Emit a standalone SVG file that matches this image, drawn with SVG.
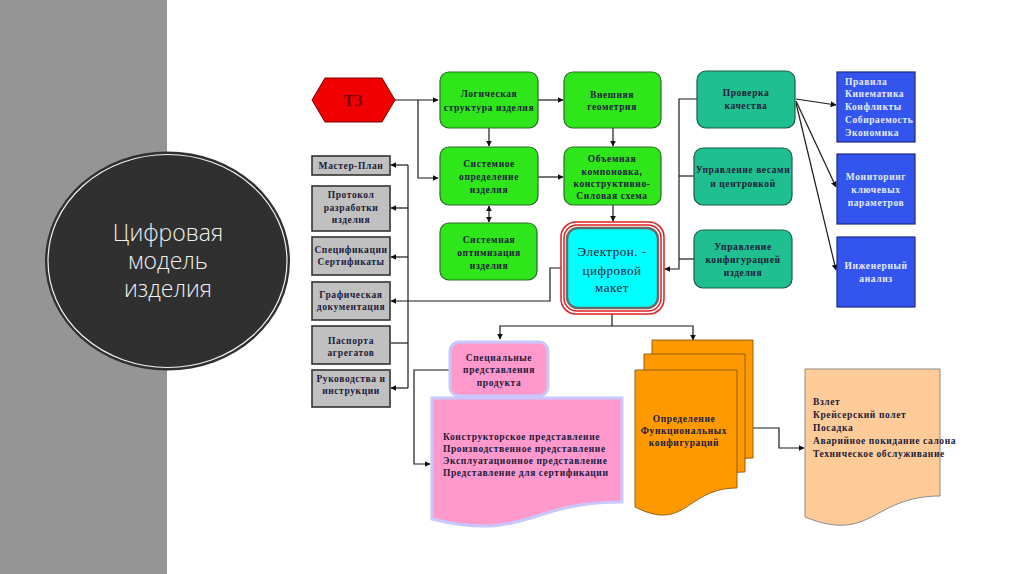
<svg xmlns="http://www.w3.org/2000/svg" width="1024" height="574" viewBox="0 0 1024 574">
<defs>
<marker id="ah" viewBox="0 0 10 10" refX="9" refY="5" markerWidth="6" markerHeight="6" orient="auto-start-reverse" markerUnits="userSpaceOnUse">
<path d="M0,0 L10,5 L0,10 Z" fill="#111"/>
</marker>
<style>
.t{font-family:"Liberation Serif","DejaVu Serif",serif;font-weight:bold;font-size:9.5px;letter-spacing:0.6px;fill:#1b1b3a;text-anchor:middle}
.tl{font-family:"Liberation Serif","DejaVu Serif",serif;font-weight:bold;font-size:9.5px;letter-spacing:0.6px;fill:#1b1b3a}
.tw{font-family:"Liberation Serif","DejaVu Serif",serif;font-weight:bold;font-size:9.5px;letter-spacing:0.6px;fill:#e6ecff}
.te{font-family:"Liberation Serif","DejaVu Serif",serif;font-size:13px;letter-spacing:0.5px;fill:#1b1b3a;text-anchor:middle}
.green{fill:#2ee619;stroke:#2b6b2b;stroke-width:1.2}
.teal{fill:#1fbf8f;stroke:#1d5a48;stroke-width:1.2}
.blue{fill:#3355ee;stroke:#1a2a80;stroke-width:1.2}
.gray{fill:#c0c0c0;stroke:#333;stroke-width:1.6}
.ln{fill:none;stroke:#1a1a1a;stroke-width:1.2}
.title{font-family:"Open Sans","Noto Sans",sans-serif;font-weight:300;font-size:23px;fill:#f2f2f2;text-anchor:middle}
</style>
</defs>
<rect x="0" y="0" width="1024" height="574" fill="#fff"/>
<rect x="0" y="0" width="167" height="574" fill="#959595"/>
<g id="title">
<ellipse cx="167.5" cy="261" rx="122.5" ry="109.5" fill="#303030"/>
<ellipse cx="167.5" cy="261" rx="119.5" ry="106.5" fill="none" stroke="#f4f4f4" stroke-width="1.2"/>
<text class="title" x="168" y="241">Цифровая</text>
<text class="title" x="168" y="269">модель</text>
<text class="title" x="168" y="297">изделия</text>
</g>
<g id="connectors">
<path class="ln" d="M395,100 H438" marker-end="url(#ah)"/>
<path class="ln" d="M418,100 V178 H438" marker-end="url(#ah)"/>
<path class="ln" d="M489,128 V146" marker-end="url(#ah)"/>
<path class="ln" d="M489,206 V222" marker-start="url(#ah)" marker-end="url(#ah)"/>
<path class="ln" d="M538,100 H563" marker-end="url(#ah)"/>
<path class="ln" d="M538,177 H563" marker-end="url(#ah)"/>
<path class="ln" d="M613,128 V146" marker-end="url(#ah)"/>
<path class="ln" d="M613,205 V221" marker-end="url(#ah)"/>
<path class="ln" d="M697,99 H679 V269 H665" marker-end="url(#ah)"/>
<path class="ln" d="M694,176 H679"/>
<path class="ln" d="M694,259 H679"/>
<path class="ln" d="M796,99 L836,105" marker-end="url(#ah)"/>
<path class="ln" d="M796,101 L836,187" marker-end="url(#ah)"/>
<path class="ln" d="M796,103 L836,270" marker-end="url(#ah)"/>
<path class="ln" d="M561,268 H550 V301 H391" marker-end="url(#ah)"/>
<path class="ln" d="M408,165 V388"/>
<path class="ln" d="M408,165 H391" marker-end="url(#ah)"/>
<path class="ln" d="M408,208 H391" marker-end="url(#ah)"/>
<path class="ln" d="M408,257 H391" marker-end="url(#ah)"/>
<path class="ln" d="M408,343 H391"/>
<path class="ln" d="M408,388 H391" marker-end="url(#ah)"/>
<path class="ln" d="M612,314 V326 H500 V339" marker-end="url(#ah)"/>
<path class="ln" d="M612,326 H693 V340" marker-end="url(#ah)"/>
<path class="ln" d="M450,370 H414 V464 H430" marker-end="url(#ah)"/>
<path class="ln" d="M753,428 H779 V448 H804" marker-end="url(#ah)"/>
</g>
<g id="tz">
<polygon points="312,100 325,78 382,78 395,100 382,122 325,122" fill="#f00000" stroke="#7a0000" stroke-width="1"/>
<text x="353" y="106" font-family="Liberation Serif,serif" font-weight="bold" font-size="16" fill="#7a0000" text-anchor="middle">ТЗ</text>
</g>
<g id="logic">
<rect class="green" x="440" y="72" width="98" height="56" rx="9"/>
<text class="t" x="489" y="97">Логическая</text>
<text class="t" x="489" y="111">структура изделия</text>
</g>
<g id="sysdef">
<rect class="green" x="440" y="147" width="98" height="58" rx="9"/>
<text class="t" x="489" y="167">Системное</text>
<text class="t" x="489" y="180">определение</text>
<text class="t" x="489" y="193">изделия</text>
</g>
<g id="sysopt">
<rect class="green" x="440" y="223" width="97" height="57" rx="9"/>
<text class="t" x="489" y="243">Системная</text>
<text class="t" x="489" y="256">оптимизация</text>
<text class="t" x="489" y="269">изделия</text>
</g>
<g id="geom">
<rect class="green" x="564" y="72" width="97" height="56" rx="9"/>
<text class="t" x="612" y="98">Внешняя</text>
<text class="t" x="612" y="110">геометрия</text>
</g>
<g id="layout">
<rect class="green" x="564" y="147" width="97" height="58" rx="9"/>
<text class="t" x="612" y="162">Объемная</text>
<text class="t" x="612" y="175">компоновка,</text>
<text class="t" x="612" y="187">конструктивно-</text>
<text class="t" x="612" y="199">Силовая схема</text>
</g>
<g id="emodel">
<rect x="561" y="222" width="103" height="92" rx="15" fill="#fff" stroke="#e02020" stroke-width="1.5"/>
<rect x="564" y="225" width="97" height="86" rx="13" fill="none" stroke="#e02020" stroke-width="1.5"/>
<rect x="567" y="228" width="91" height="80" rx="11" fill="#00ffff" stroke="#6a6a6a" stroke-width="2.5"/>
<text class="te" x="612" y="256">Электрон. -</text>
<text class="te" x="612" y="275">цифровой</text>
<text class="te" x="612" y="292">макет</text>
</g>
<g id="quality">
<rect class="teal" x="697" y="71" width="98" height="57" rx="9"/>
<text class="t" x="746" y="96">Проверка</text>
<text class="t" x="746" y="109">качества</text>
</g>
<g id="weights">
<rect class="teal" x="694" y="148" width="98" height="57" rx="9"/>
<text class="t" x="743" y="173">Управление весами</text>
<text class="t" x="743" y="187">и центровкой</text>
</g>
<g id="config">
<rect class="teal" x="694" y="230" width="98" height="58" rx="9"/>
<text class="t" x="743" y="250">Управление</text>
<text class="t" x="743" y="263">конфигурацией</text>
<text class="t" x="743" y="276">изделия</text>
</g>
<g id="rules">
<rect class="blue" x="837" y="72" width="78" height="70"/>
<text class="tw" x="845" y="85">Правила</text>
<text class="tw" x="845" y="97">Кинематика</text>
<text class="tw" x="845" y="110">Конфликты</text>
<text class="tw" x="845" y="123">Собираемость</text>
<text class="tw" x="845" y="136">Экономика</text>
</g>
<g id="monitor">
<rect class="blue" x="837" y="154" width="78" height="70"/>
<text class="tw" x="876" y="180" text-anchor="middle">Мониторинг</text>
<text class="tw" x="876" y="193" text-anchor="middle">ключевых</text>
<text class="tw" x="876" y="206" text-anchor="middle">параметров</text>
</g>
<g id="analysis">
<rect class="blue" x="837" y="237" width="78" height="70"/>
<text class="tw" x="876" y="269" text-anchor="middle">Инженерный</text>
<text class="tw" x="876" y="282" text-anchor="middle">анализ</text>
</g>
<g id="master">
<rect class="gray" x="312" y="156" width="78" height="19"/>
<text class="t" x="351" y="169">Мастер-План</text>
</g>
<g id="protocol">
<rect class="gray" x="312" y="186" width="78" height="45"/>
<text class="t" x="351" y="198">Протокол</text>
<text class="t" x="351" y="211">разработки</text>
<text class="t" x="351" y="223">изделия</text>
</g>
<g id="spec">
<rect class="gray" x="312" y="237" width="78" height="38"/>
<text class="t" x="351" y="253">Спецификации</text>
<text class="t" x="351" y="265">Сертификаты</text>
</g>
<g id="graphics">
<rect class="gray" x="312" y="282" width="78" height="38"/>
<text class="t" x="351" y="298">Графическая</text>
<text class="t" x="351" y="310">документация</text>
</g>
<g id="passports">
<rect class="gray" x="312" y="326" width="78" height="38"/>
<text class="t" x="351" y="344">Паспорта</text>
<text class="t" x="351" y="356">агрегатов</text>
</g>
<g id="manuals">
<rect class="gray" x="312" y="370" width="78" height="37"/>
<text class="t" x="351" y="382">Руководства и</text>
<text class="t" x="351" y="394">инструкции</text>
</g>
<g id="special">
<rect x="450" y="342" width="98" height="54" rx="9" fill="#ff99cc" stroke="#c8c8ff" stroke-width="3"/>
<text class="t" x="499" y="361">Специальные</text>
<text class="t" x="499" y="373">представления</text>
<text class="t" x="499" y="386">продукта</text>
</g>
<g id="views">
<path d="M432,398 H622 V502 C527,502 527,542 432,519 Z" fill="#ff99cc" stroke="#c8c8ff" stroke-width="3"/>
<text class="tl" x="443" y="440">Конструкторское представление</text>
<text class="tl" x="443" y="452">Производственное представление</text>
<text class="tl" x="443" y="464">Эксплуатационное представление</text>
<text class="tl" x="443" y="476">Представление для сертификации</text>
</g>
<g id="functional">
<path d="M652,340 H753 V458 C702,458 702,503 652,477 Z" fill="#ff9900" stroke="#7a4a00" stroke-width="0.8"/>
<path d="M644,354 H745 V472 C694,472 694,517 644,491 Z" fill="#ff9900" stroke="#7a4a00" stroke-width="0.8"/>
<path d="M635,370 H737 V488 C686,488 686,533 635,507 Z" fill="#ff9900" stroke="#7a4a00" stroke-width="0.8"/>
<text class="t" x="684" y="422">Определение</text>
<text class="t" x="684" y="434">Функциональных</text>
<text class="t" x="684" y="446">конфигураций</text>
</g>
<g id="phases">
<path d="M805,369 H940 V496 C872,496 872,544 805,517 Z" fill="#ffcc99" stroke="#8a8a8a" stroke-width="1"/>
<text class="tl" x="813" y="405">Взлет</text>
<text class="tl" x="813" y="418">Крейсерский полет</text>
<text class="tl" x="813" y="431">Посадка</text>
<text class="tl" x="813" y="444">Аварийное покидание салона</text>
<text class="tl" x="813" y="457">Техническое обслуживание</text>
</g>
</svg>
